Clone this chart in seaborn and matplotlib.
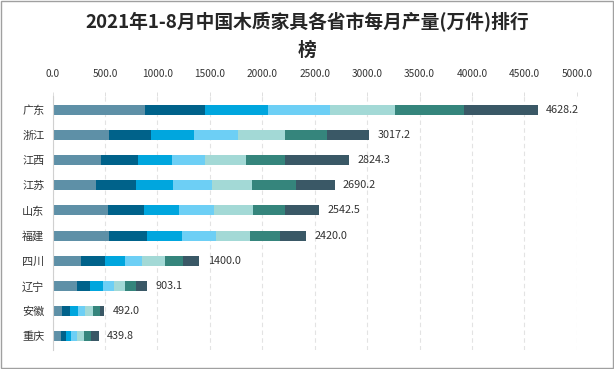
import numpy as np
import pandas as pd
import matplotlib
matplotlib.use('Agg')
import matplotlib.pyplot as plt
import seaborn as sns
from matplotlib.patches import Rectangle

# provinces, top to bottom
provinces = ['广东', '浙江', '江西', '江苏', '山东', '福建', '四川', '辽宁', '安徽', '重庆']
months = ['1-2月', '3月', '4月', '5月', '6月', '7月', '8月']

# monthly output (万件)
m12 = [881, 537, 461, 413, 528, 537, 270, 232, 89, 80]
m3 = [573, 401, 353, 382, 344, 363, 229, 124, 76, 48]
m4 = [601, 410, 324, 353, 334, 334, 191, 124, 76, 48]
m5 = [592, 420, 315, 372, 334, 324, 162, 105, 67, 57]
m6 = [620, 448, 391, 382, 372, 324, 219, 105, 76, 67]
m7 = [658, 401, 372, 420, 305, 286, 172, 105, 67, 67]
m8 = [703.2, 400.2, 608.3, 368.2, 325.5, 252.0, 157.0, 107.1, 41.0, 72.8]

totals = [4628.2, 3017.2, 2824.3, 2690.2, 2542.5, 2420.0, 1400.0, 903.1, 492.0, 439.8]

colors = ['#5E90A7', '#00628A', '#00A6DE', '#6DCFF5', '#A3D9D6', '#35857C', '#3A5866']

sns.set_theme(style='white')
plt.rcParams['font.family'] = ['Noto Sans CJK SC', 'DejaVu Sans']

df = pd.DataFrame({'省份': provinces, '1-2月': m12, '3月': m3, '4月': m4, '5月': m5,
                   '6月': m6, '7月': m7, '8月': m8})
cum = df[months].cumsum(axis=1)
cum['省份'] = provinces

fig = plt.figure(figsize=(6.14, 3.69), dpi=100)
ax = fig.add_axes([0.0858, 0.0515, 0.8535, 0.6883])

# stacked bars: draw cumulative sums from the longest down
for i in range(len(months) - 1, -1, -1):
    sns.barplot(data=cum, x=months[i], y='省份', color=colors[i], width=0.4,
                orient='h', ax=ax, saturation=1, edgecolor='none')

for i, t in enumerate(totals):
    ax.text(t + 80, i, f'{t:.1f}', va='center', ha='left', fontsize=7.8,
            color='#333333')

ax.set_xlim(0, 5000)
ax.set_ylim(9.54, -0.54)
ax.set_xticks(np.arange(0, 5001, 500))
ax.set_xticklabels([f'{v:.1f}' for v in np.arange(0, 5001, 500)])
ax.xaxis.tick_top()
ax.tick_params(axis='x', labelsize=7.3, colors='#333333', length=3, width=0.6,
               color='#D9D9D9', pad=9)
ax.tick_params(axis='y', labelsize=8, colors='#333333', length=0, pad=6)
ax.set_xlabel('')
ax.set_ylabel('')
ax.grid(axis='x', linestyle=(0, (4, 3)), color='#E3E3E3', linewidth=0.8)
ax.set_axisbelow(True)
for s in ['top', 'right', 'bottom']:
    ax.spines[s].set_visible(False)
ax.spines['left'].set_color('#D0D0D0')
ax.spines['left'].set_linewidth(0.8)

fig.text(0.5, 0.94, '2021年1-8月中国木质家具各省市每月产量(万件)排行', ha='center',
         va='center', fontsize=13.5, fontweight='semibold', color='#262626')
fig.text(0.5, 0.864, '榜', ha='center', va='center', fontsize=13.5,
         fontweight='semibold', color='#262626')

fig.add_artist(Rectangle((0.002, 0.003), 0.996, 0.994, transform=fig.transFigure,
                         fill=False, edgecolor='#A0A0A0', linewidth=1))

fig.savefig('out.png', dpi=100)
